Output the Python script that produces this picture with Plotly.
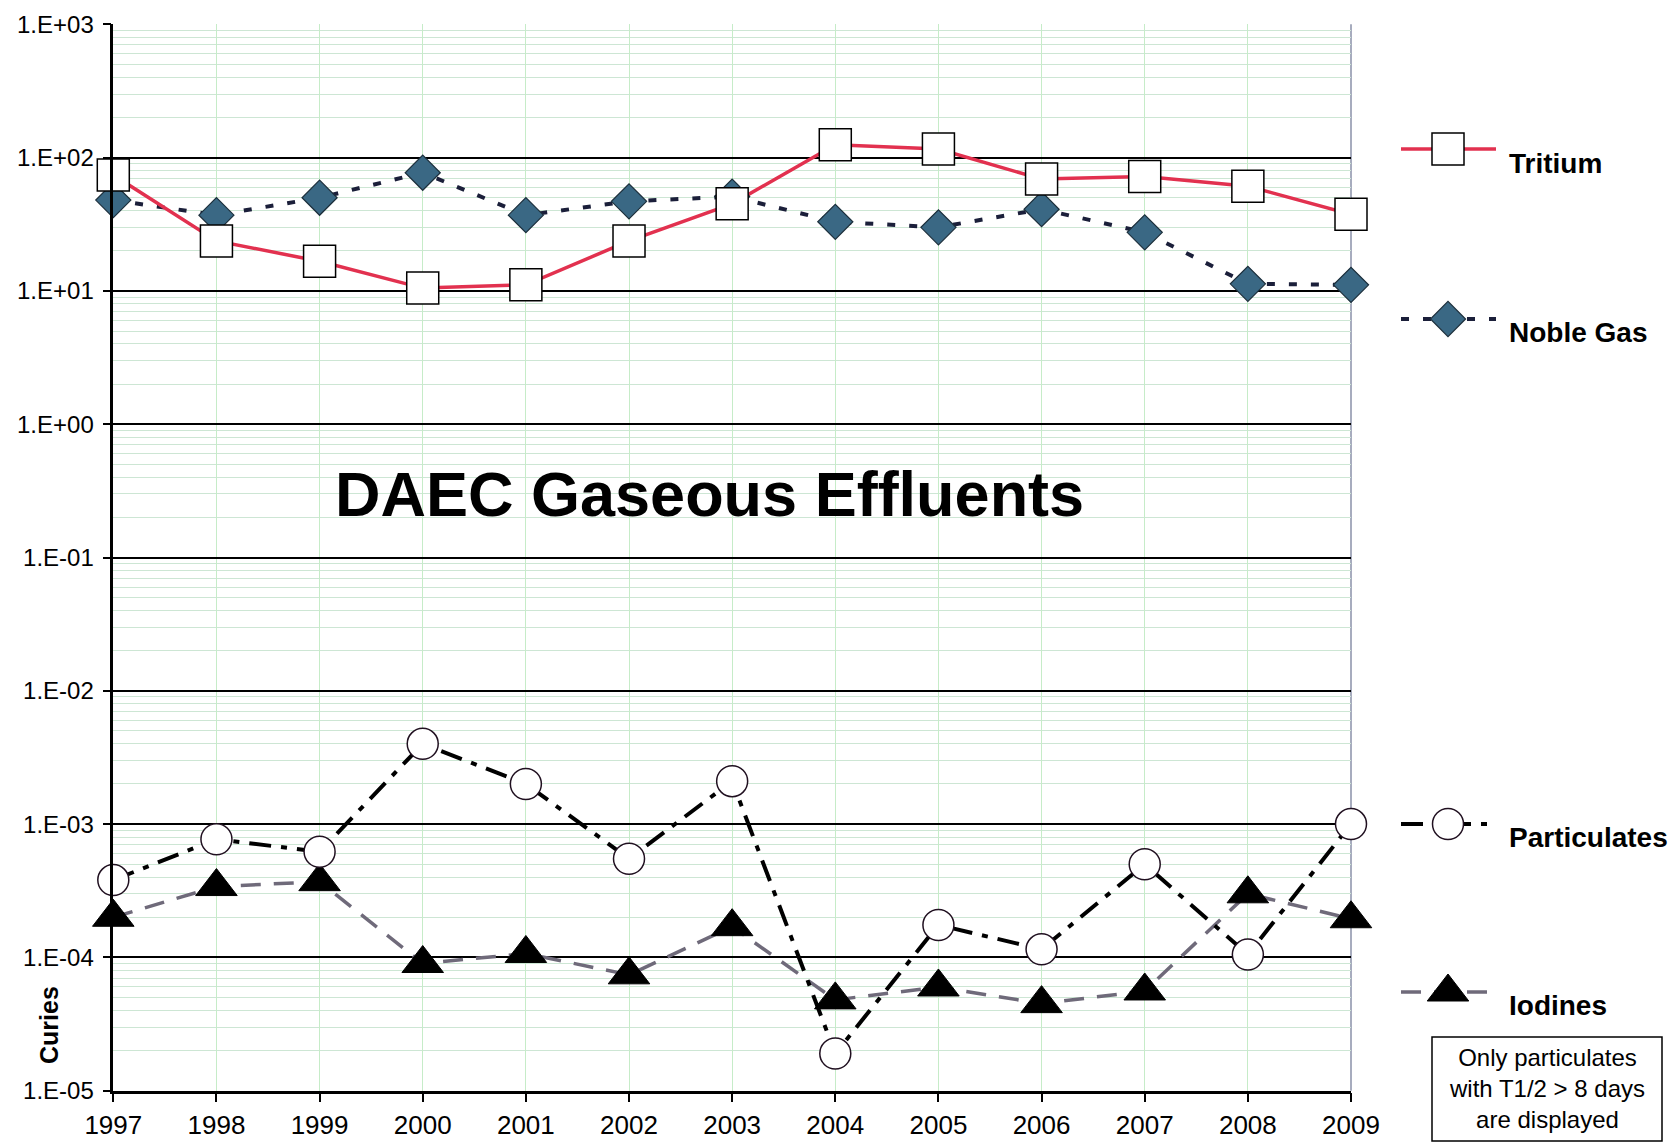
import plotly.graph_objects as go

years = [1997, 1998, 1999, 2000, 2001, 2002, 2003, 2004, 2005, 2006, 2007, 2008, 2009]
tritium = [74, 23.7, 16.7, 10.5, 11.1, 23.7, 45, 125, 116, 69, 72, 61, 37.6]
noble_gas = [48, 37, 50, 77, 37, 47, 51, 33, 30, 41, 27.5, 11.3, 11.1]
particulates = [3.8e-4, 7.7e-4, 6.2e-4, 4.0e-3, 2.0e-3, 5.5e-4, 2.1e-3, 1.9e-5, 1.75e-4, 1.15e-4, 5.0e-4, 1.05e-4, 1.0e-3]
iodines = [2.0e-4, 3.4e-4, 3.7e-4, 9.0e-5, 1.07e-4, 7.4e-5, 1.7e-4, 4.8e-5, 6.0e-5, 4.5e-5, 5.6e-5, 3.0e-4, 1.95e-4]

y_tickvals = [1e-5, 1e-4, 1e-3, 1e-2, 1e-1, 1e0, 1e1, 1e2, 1e3]
y_ticktext = ["1.E-05", "1.E-04", "1.E-03", "1.E-02", "1.E-01", "1.E+00", "1.E+01", "1.E+02", "1.E+03"]
series_names = ["Tritium", "Noble Gas", "Particulates", "Iodines"]
title_text = "DAEC Gaseous Effluents"
y_title = "Curies"
note_lines = ["Only particulates", "with T1/2 > 8 days", "are displayed"]

W, H = 1677, 1142
FONT = "Liberation Sans, Arial, sans-serif"

# styles
RED = "#E2314F"
NAVY = "#1b1f3a"
STEEL = "#3A6884"
GRAYP = "#6f6a7a"

styles = {
    "Tritium": dict(line=dict(color=RED, width=3.5),
                    marker=dict(symbol="square", size=32, color="white", line=dict(color="black", width=1.5))),
    "Noble Gas": dict(line=dict(color=NAVY, width=4, dash="8px,14px"),
                      marker=dict(symbol="diamond", size=27, color=STEEL, line=dict(color="#1c2f3c", width=1.2))),
    "Particulates": dict(line=dict(color="black", width=4, dash="22px,10px,6px,10px"),
                         marker=dict(symbol="circle", size=31, color="white", line=dict(color="#201020", width=1.5))),
    "Iodines": dict(line=dict(color=GRAYP, width=3.5, dash="20px,13px"),
                    marker=dict(symbol="triangle-up", size=36, color="black", line=dict(color="black", width=1))),
}
values = {"Tritium": tritium, "Noble Gas": noble_gas, "Particulates": particulates, "Iodines": iodines}

fig = go.Figure()
# draw lines first, then markers on top (like Excel)
for name in ["Iodines", "Particulates", "Noble Gas", "Tritium"]:
    fig.add_trace(go.Scatter(x=years, y=values[name], mode="lines", line=styles[name]["line"],
                             showlegend=False, hoverinfo="skip", xaxis="x", yaxis="y", cliponaxis=False))
for name in ["Iodines", "Particulates", "Noble Gas", "Tritium"]:
    fig.add_trace(go.Scatter(x=years, y=values[name], mode="markers", marker=styles[name]["marker"],
                             name=name, showlegend=False, xaxis="x", yaxis="y", cliponaxis=False))

# legend samples drawn in a pixel-unit helper axis
leg_y = {"Tritium": 149, "Noble Gas": 319, "Particulates": 824, "Iodines": 992}
leg_text_y = {"Tritium": 163, "Noble Gas": 332, "Particulates": 837, "Iodines": 1005}
for name in series_names:
    y0 = leg_y[name]
    fig.add_trace(go.Scatter(x=[1401, 1496], y=[y0, y0], mode="lines", line=styles[name]["line"],
                             showlegend=False, hoverinfo="skip", xaxis="x2", yaxis="y2", cliponaxis=False))
    fig.add_trace(go.Scatter(x=[1448], y=[y0], mode="markers", marker=styles[name]["marker"],
                             showlegend=False, hoverinfo="skip", xaxis="x2", yaxis="y2", cliponaxis=False))
    fig.add_annotation(x=1507 / W, y=1 - leg_text_y[name] / H, xref="paper", yref="paper",
                       text=name, showarrow=False, xanchor="left", yanchor="middle",
                       font=dict(family=FONT, size=28, color="black", weight="bold"))

x0p, x1p = 113.3, 1351.0
ytop, ybot = 24.3, 1090.7

minor_vals = []
for e in range(-5, 3):
    for m in range(2, 10):
        minor_vals.append(m * 10 ** e)

fig.update_layout(
    width=W, height=H,
    margin=dict(l=0, r=0, t=0, b=0),
    paper_bgcolor="white", plot_bgcolor="white",
    showlegend=False,
    xaxis=dict(domain=[x0p / W, x1p / W], range=[1997, 2009], anchor="y",
               tickmode="array", tickvals=years, ticktext=[str(y) for y in years],
               tickfont=dict(family=FONT, size=26, color="black"),
               ticks="outside", ticklen=9, tickwidth=2, tickcolor="black",
               showline=True, linecolor="black", linewidth=2.5,
               showgrid=True, gridcolor="#c6ecc8", gridwidth=1, zeroline=False,
               automargin=False, fixedrange=True),
    yaxis=dict(domain=[1 - ybot / H, 1 - ytop / H], type="log", range=[-5, 3], anchor="x",
               tickmode="array", tickvals=y_tickvals, ticktext=y_ticktext,
               tickfont=dict(family=FONT, size=24, color="black"),
               ticks="outside", ticklen=8, tickwidth=2, tickcolor="black", ticklabelstandoff=4,
               showline=True, linecolor="black", linewidth=2.5,
               showgrid=True, gridcolor="black", gridwidth=2, zeroline=False,
               minor=dict(tickmode="array", tickvals=minor_vals, showgrid=True,
                          gridcolor="#cde6d4", gridwidth=1, ticks=""),
               automargin=False, fixedrange=True),
    xaxis2=dict(domain=[1380 / W, 1.0], range=[1380, 1677], visible=False, anchor="y2", fixedrange=True),
    yaxis2=dict(domain=[0, 1], range=[H, 0], visible=False, anchor="x2", fixedrange=True),
)

# thin right border
fig.add_shape(type="line", xref="x domain", yref="y domain", x0=1, x1=1, y0=0, y1=1,
              line=dict(color="#8a90a8", width=1.5), layer="below")

# title inside plot
fig.add_annotation(x=709 / W, y=1 - 494 / H, xref="paper", yref="paper", text=title_text,
                   showarrow=False, xanchor="center", yanchor="middle",
                   font=dict(family=FONT, size=63, color="black", weight="bold"))

# y axis title
fig.add_annotation(x=49 / W, y=1 - 1025 / H, xref="paper", yref="paper", text=y_title,
                   showarrow=False, textangle=-90, xanchor="center", yanchor="middle",
                   font=dict(family=FONT, size=25, color="black", weight="bold"))

# note box
fig.add_shape(type="rect", xref="paper", yref="paper",
              x0=1432 / W, x1=1662 / W, y0=1 - 1141 / H, y1=1 - 1037 / H,
              line=dict(color="black", width=1.5), fillcolor="white")
fig.add_annotation(x=1547 / W, y=1 - 1088 / H, xref="paper", yref="paper",
                   text="<br>".join(note_lines), showarrow=False, xanchor="center", yanchor="middle",
                   align="center", font=dict(family=FONT, size=24, color="black"))

fig.write_html("out.html", config={"displayModeBar": False},
               post_script="document.body.style.margin='0px';document.body.style.overflow='hidden';")
